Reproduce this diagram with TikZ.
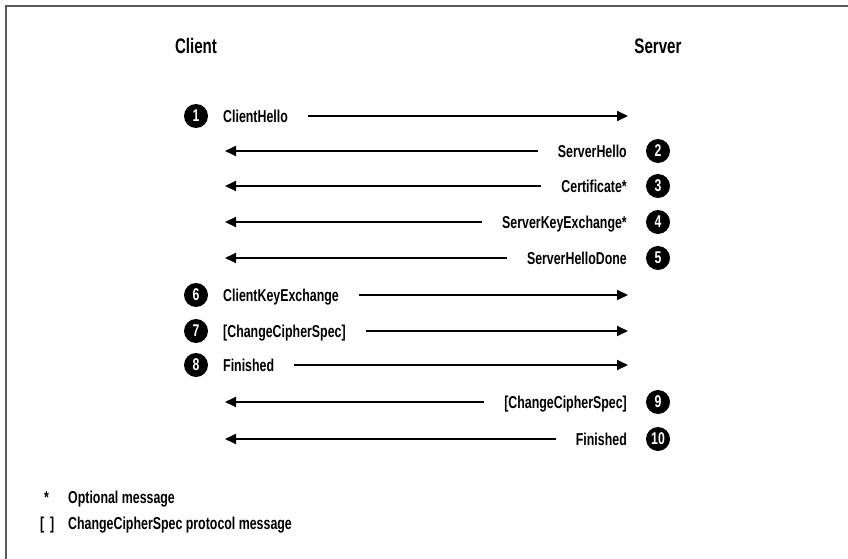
\documentclass[tikz,border=0pt]{standalone}
\usepackage{fontspec}
\setmainfont{Liberation Sans}[FakeStretch=0.72]
\usetikzlibrary{arrows.meta}

\begin{document}
\begin{tikzpicture}[x=1pt, y=-1pt,
    num/.style={circle, fill=black, text=white, minimum size=24pt, inner sep=0pt,
        font=\fontsize{17}{17}\selectfont\bfseries},
    lab/.style={inner sep=0pt, text height=12.3pt, text depth=0pt,
        font=\fontsize{17.2}{18}\selectfont\bfseries},
    head/.style={inner sep=0pt, text height=15pt, text depth=0pt,
        font=\fontsize{21}{22}\selectfont\bfseries},
    msg/.style={line width=1.8pt, -{Triangle[length=11pt, width=10pt]}}]
    \useasboundingbox (0,0) rectangle (848,559);
    \draw[black!65, line width=1.5pt] (848,6) -- (6,6) -- (6,559);

    \node[head] (client) at (196,46) {Client};
    \node[head] (server) at (658,46) {Server};

    \node[num] (c1) at (196,116) {1};
    \node[lab, anchor=west] (m1) at (223,116) {ClientHello};
    \coordinate (s1) at (628,116);
    \draw[msg] ([xshift=20pt]m1.east) -- (s1);

    \node[num] (c2) at (658,151) {2};
    \node[lab, anchor=east] (m2) at (627,151) {ServerHello};
    \coordinate (k2) at (225,151);
    \draw[msg] ([xshift=-20pt]m2.west) -- (k2);

    \node[num] (c3) at (658,186) {3};
    \node[lab, anchor=east] (m3) at (627,186) {Certificate*};
    \coordinate (k3) at (225,186);
    \draw[msg] ([xshift=-20pt]m3.west) -- (k3);

    \node[num] (c4) at (658,222) {4};
    \node[lab, anchor=east] (m4) at (627,222) {ServerKeyExchange*};
    \coordinate (k4) at (225,222);
    \draw[msg] ([xshift=-20pt]m4.west) -- (k4);

    \node[num] (c5) at (658,258) {5};
    \node[lab, anchor=east] (m5) at (627,258) {ServerHelloDone};
    \coordinate (k5) at (225,258);
    \draw[msg] ([xshift=-20pt]m5.west) -- (k5);

    \node[num] (c6) at (196,295) {6};
    \node[lab, anchor=west] (m6) at (223,295) {ClientKeyExchange};
    \coordinate (s6) at (628,295);
    \draw[msg] ([xshift=20pt]m6.east) -- (s6);

    \node[num] (c7) at (196,331) {7};
    \node[lab, anchor=west] (m7) at (223,331) {[ChangeCipherSpec]};
    \coordinate (s7) at (628,331);
    \draw[msg] ([xshift=20pt]m7.east) -- (s7);

    \node[num] (c8) at (196,365) {8};
    \node[lab, anchor=west] (m8) at (223,365) {Finished};
    \coordinate (s8) at (628,365);
    \draw[msg] ([xshift=20pt]m8.east) -- (s8);

    \node[num] (c9) at (658,402) {9};
    \node[lab, anchor=east] (m9) at (627,402) {[ChangeCipherSpec]};
    \coordinate (k9) at (225,402);
    \draw[msg] ([xshift=-20pt]m9.west) -- (k9);

    \node[num] (c10) at (658,439) {10};
    \node[lab, anchor=east] (m10) at (627,439) {Finished};
    \coordinate (k10) at (225,439);
    \draw[msg] ([xshift=-20pt]m10.west) -- (k10);

    \node[lab, anchor=west] (star) at (44,497) {*};
    \node[lab, anchor=west] (d1) at (68,497) {Optional message};
    \node[lab, anchor=west] (brackets) at (40,523) {[\,\,]};
    \node[lab, anchor=west] (d2) at (68,523) {ChangeCipherSpec protocol message};
\end{tikzpicture}
\end{document}
